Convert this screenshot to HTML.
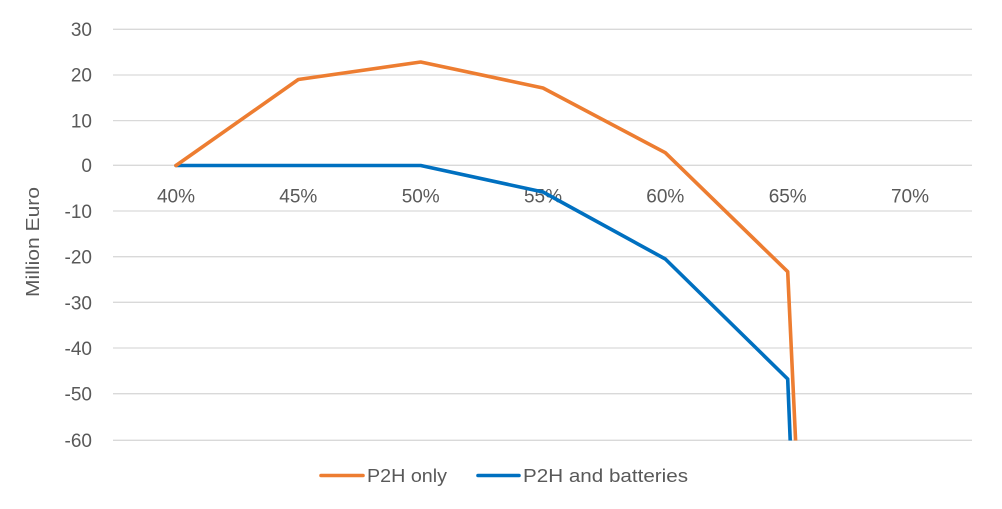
<!DOCTYPE html>
<html><head><meta charset="utf-8"><style>
html,body{margin:0;padding:0;background:#fff;}
svg{display:block;}
text{font-family:"Liberation Sans",sans-serif;fill:#595959;}
</style></head><body>
<svg width="1002" height="509" viewBox="0 0 1002 509" xmlns="http://www.w3.org/2000/svg">
<defs><clipPath id="pc"><rect x="113" y="0" width="860" height="440.5"/></clipPath></defs>
<g stroke="#d9d9d9" stroke-width="1.3">
<line x1="113" x2="972" y1="29.3" y2="29.3"/>
<line x1="113" x2="972" y1="75" y2="75"/>
<line x1="113" x2="972" y1="120.6" y2="120.6"/>
<line x1="113" x2="972" y1="165.3" y2="165.3"/>
<line x1="113" x2="972" y1="211" y2="211"/>
<line x1="113" x2="972" y1="256.7" y2="256.7"/>
<line x1="113" x2="972" y1="302.3" y2="302.3"/>
<line x1="113" x2="972" y1="348" y2="348"/>
<line x1="113" x2="972" y1="393.7" y2="393.7"/>
<line x1="113" x2="972" y1="440.3" y2="440.3"/>
</g>
<g font-size="19" text-anchor="end">
<text x="92" y="36">30</text>
<text x="92" y="81.7">20</text>
<text x="92" y="127.3">10</text>
<text x="92" y="172">0</text>
<text x="92" y="218">-10</text>
<text x="92" y="263.7">-20</text>
<text x="92" y="309.3">-30</text>
<text x="92" y="355">-40</text>
<text x="92" y="400.7">-50</text>
<text x="92" y="447">-60</text>
</g>
<g font-size="19" text-anchor="middle">
<text x="176" y="202.5" textLength="38">40%</text>
<text x="298.3" y="202.5" textLength="38">45%</text>
<text x="420.7" y="202.5" textLength="38">50%</text>
<text x="543" y="202.5" textLength="38">55%</text>
<text x="665.3" y="202.5" textLength="38">60%</text>
<text x="787.7" y="202.5" textLength="38">65%</text>
<text x="910" y="202.5" textLength="38">70%</text>
</g>
<text transform="translate(39,242) rotate(-90)" font-size="18" text-anchor="middle" textLength="110" lengthAdjust="spacingAndGlyphs">Million Euro</text>
<g clip-path="url(#pc)" fill="none" stroke-width="3.6" stroke-linejoin="round" stroke-linecap="round">
<polyline stroke="#0070c0" points="176,165.5 298.3,165.5 420.7,165.5 543,192 665.3,259 787.7,379 791,460"/>
<polyline stroke="#ed7d31" points="176,165.5 298.3,79.5 420.7,62 543,88 665.3,152.7 787.7,271.7 796.5,460"/>
</g>
<line x1="321" x2="363" y1="475.5" y2="475.5" stroke="#ed7d31" stroke-width="3.6" stroke-linecap="round"/>
<text x="367" y="482" font-size="18.5" textLength="80" lengthAdjust="spacingAndGlyphs">P2H only</text>
<line x1="478" x2="519" y1="475.5" y2="475.5" stroke="#0070c0" stroke-width="3.6" stroke-linecap="round"/>
<text x="523" y="482" font-size="18.5" textLength="165" lengthAdjust="spacingAndGlyphs">P2H and batteries</text>
</svg>
</body></html>
